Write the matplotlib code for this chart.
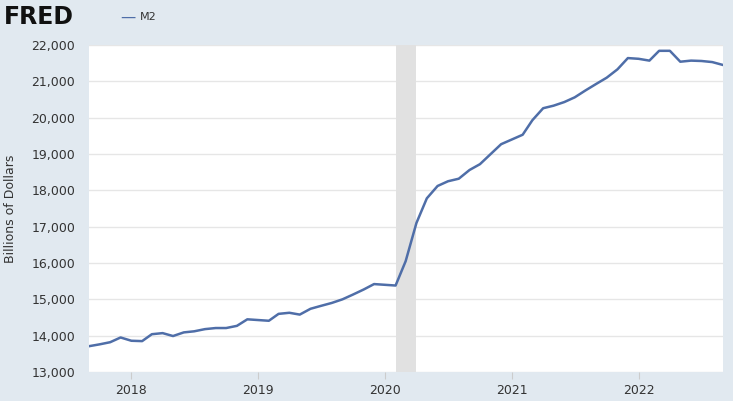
import matplotlib
matplotlib.use("Agg")
import matplotlib.pyplot as plt
import matplotlib.dates as mdates
import pandas as pd

dates = pd.date_range("2017-09-01", "2022-09-01", freq="MS")
m2 = [13710,13760,13820,13950,13860,13850,14040,14070,13990,14090,14120,14180,14210,14210,14270,14450,
      14430,14410,14600,14630,14580,14740,14820,14900,15000,15130,15270,15420,
      15400,15380,16050,17100,17780,18120,18250,18320,18560,18720,19000,19270,
      19400,19530,19930,20260,20330,20430,20560,20750,20930,21100,21330,21640,
      21620,21570,21840,21840,21540,21570,21560,21530,21450]
recession = ("2020-02-01", "2020-04-01")
yticks = list(range(13000, 22001, 1000))

bg = "#e1e9f0"
fig = plt.figure(figsize=(7.33, 4.01), dpi=100, facecolor=bg)
ax = fig.add_axes([89/733, 29/401, 634/733, 327/401])
ax.set_facecolor("white")
ax.axvspan(pd.Timestamp(recession[0]), pd.Timestamp(recession[1]), color="#e1e1e1", lw=0)
ax.plot(dates, m2, color="#4f6ea8", lw=1.8)
ax.set_ylim(13000, 22000)
ax.set_xlim(dates[0], dates[-1])
ax.set_yticks(yticks)
ax.set_yticklabels([f"{v:,}" for v in yticks])
ax.xaxis.set_major_locator(mdates.YearLocator())
ax.xaxis.set_major_formatter(mdates.DateFormatter("%Y"))
ax.grid(axis="y", color="#e6e6e6", lw=1)
ax.set_axisbelow(True)
for s in ax.spines.values():
    s.set_visible(False)
ax.tick_params(axis="y", length=0, labelsize=9, colors="#333333", pad=10)
ax.tick_params(axis="x", length=5, color="#cccccc", labelsize=9, colors="#333333")
ax.set_ylabel("Billions of Dollars", fontsize=9, color="#333333", labelpad=10)
fig.text(4/733, 1-17/401, "FRED", fontsize=17, fontweight="bold", color="#111111", va="center")
fig.text(120/733, 1-17/401, "—", fontsize=11, color="#4f6ea8", va="center")
fig.text(140/733, 1-17/401, "M2", fontsize=8, color="#333333", va="center")
fig.savefig("out.png", dpi=100, facecolor=bg)
